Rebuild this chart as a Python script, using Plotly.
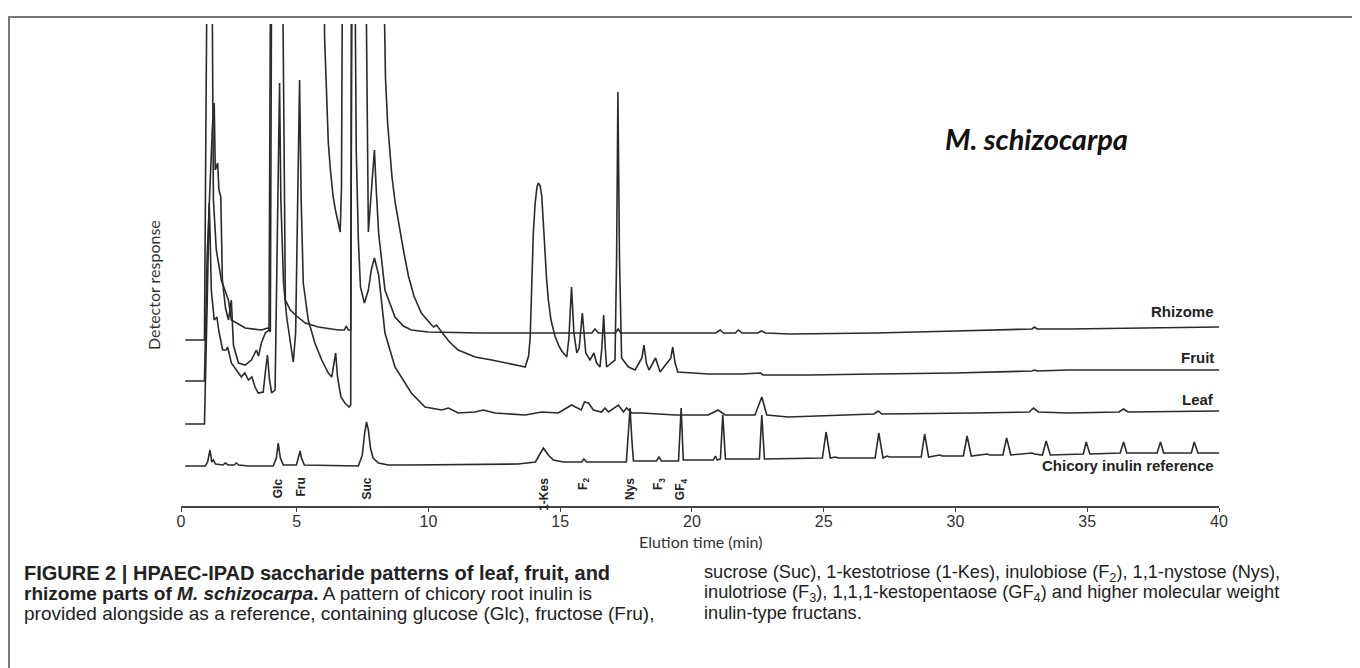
import plotly.graph_objects as go

# ---------------- data (time in min, detector response in arbitrary units) ----------------
rhizome_t = [0.77, 1.50, 1.56, 1.62, 1.77, 1.84, 1.95, 2.14, 2.41, 2.52, 3.05, 3.66, 3.92, 4.00, 4.06, 4.44,
             4.57, 4.76, 4.95, 5.33, 5.82, 6.58, 6.81, 6.88, 6.96, 7.05, 7.11, 7.60, 7.72, 7.83, 7.95, 8.02,
             8.11, 8.35, 8.73, 9.05, 9.35, 9.99, 12.0, 15.0, 16.2, 16.32, 16.45, 17.1, 17.2, 17.3, 20.9,
             21.07, 21.2, 21.65, 21.76, 21.9, 22.5, 22.63, 22.8, 23.7, 27.0, 30.0, 32.9, 33.0, 33.1, 34.3,
             37.0, 40.0]
rhizome_r = [168, 168, 400, 620, 620, 308, 258, 228, 208, 188, 180, 178, 180, 176, 620, 620,
             208, 198, 193, 185, 181, 178, 178, 182, 178, 178, 620, 620, 276, 318, 358, 318,
             275, 218, 191, 182, 178, 176, 175, 175, 175, 179, 175, 175, 179, 175, 175,
             178, 175, 175, 178, 175, 175, 177, 175, 174, 175, 177, 179, 181, 179, 179,
             180, 181]

fruit_t = [0.77, 1.50, 1.60, 1.80, 1.87, 1.91, 2.00, 2.05, 2.12, 2.18, 2.30, 2.41, 2.52, 2.60, 2.79, 3.05,
           3.28, 3.40, 3.47, 3.55, 3.66, 3.81, 3.95, 4.02, 6.01, 6.06, 6.13, 6.20, 6.28, 6.38, 6.47, 6.57,
           6.65, 6.70, 6.72, 6.75, 8.25, 8.30, 8.37, 8.45, 8.52, 8.62, 8.74, 8.90, 9.05, 9.24, 9.45, 9.73,
           10.0, 10.12, 10.20, 10.31, 10.50, 10.80, 11.13, 11.77, 12.40, 13.03, 13.50, 13.67, 13.80,
           13.86, 13.92, 13.98, 14.05, 14.12, 14.17, 14.24, 14.30, 14.36, 14.42, 14.48, 14.55, 14.65,
           14.80, 14.95, 15.06, 15.25, 15.33, 15.43, 15.52, 15.63, 15.72, 15.84, 15.92, 15.97, 16.13,
           16.28, 16.38, 16.51, 16.58, 16.65, 16.71, 16.76, 17.08, 17.14, 17.19, 17.25, 17.33, 17.59,
           17.84, 18.10, 18.18, 18.27, 18.37, 18.62, 18.79, 19.20, 19.27, 19.36, 19.46, 20.63, 21.89,
           22.60, 22.70, 24.42, 27.0, 30.0, 32.9, 33.0, 33.1, 34.28, 37.0, 40.0]
fruit_r = [127, 127, 250, 380, 405, 338, 345, 318, 311, 228, 200, 188, 208, 163, 145, 143,
           148, 155, 158, 152, 165, 175, 178, 620, 620, 470, 408, 365, 338, 312, 298, 285,
           276, 320, 358, 620, 620, 520, 430, 385, 358, 330, 305, 280, 258, 232, 212, 195,
           186, 183, 181, 183, 176, 166, 158, 151, 148, 145, 142, 141, 152,
           170, 225, 275, 305, 321, 325, 322, 312, 290, 258, 230, 208, 188,
           172, 162, 157, 151, 170, 221, 175, 155, 160, 195, 165, 155, 148,
           155, 145, 141, 160, 193, 160, 141, 148, 250, 416, 250, 150, 141,
           138, 150, 163, 145, 138, 150, 136, 150, 161, 145, 136, 134, 134,
           135, 133, 133, 134, 135, 137, 138, 137, 138, 138, 138]

leaf_t = [0.77, 1.50, 1.60, 1.68, 1.71, 1.76, 1.87, 1.97, 2.06, 2.19, 2.32, 2.38, 2.52, 2.71, 2.90, 3.03,
          3.17, 3.30, 3.42, 3.54, 3.73, 3.82, 3.89, 3.97, 4.05, 4.18, 4.28, 4.35, 4.40, 4.50, 4.62, 4.75,
          4.87, 4.96, 5.03, 5.11, 5.17, 5.25, 5.44, 5.69, 5.95, 6.20, 6.33, 6.42, 6.48, 6.55, 6.68, 6.83,
          6.99, 7.05, 7.08, 7.19, 7.26, 7.34, 7.42, 7.57, 7.72, 7.83, 7.95, 8.11, 8.35, 8.73, 9.35, 9.87,
          10.50, 10.76, 11.13, 11.77, 12.08, 12.53, 13.67, 14.30, 14.93, 15.43, 15.63, 15.80, 15.92,
          16.07, 16.26, 16.57, 16.70, 16.83, 17.21, 17.40, 17.52, 17.71, 18.09, 19.36, 20.62, 20.99,
          21.26, 22.39, 22.65, 22.84, 23.66, 25.0, 26.9, 27.07, 27.2, 30.74, 32.8, 32.96, 33.15, 34.28,
          36.2, 36.38, 36.55, 40.0]
leaf_r = [84, 84, 200, 305, 278, 218, 188, 191, 175, 158, 158, 161, 145, 138, 131, 135,
          128, 131, 121, 115, 116, 138, 153, 128, 115, 118, 308, 425, 308, 225, 191, 165,
          146, 175, 308, 428, 308, 225, 188, 165, 148, 135, 131, 148, 155, 131, 111, 105,
          101, 103, 620, 620, 358, 268, 221, 205, 218, 238, 250, 233, 175, 141, 115, 101,
          98, 100, 95, 96, 98, 95, 93, 96, 95, 103, 100, 98, 106,
          105, 98, 96, 100, 96, 103, 96, 100, 95, 95, 93, 93, 98,
          93, 93, 111, 93, 91, 92, 94, 97, 94, 95, 96, 100, 96, 95,
          96, 99, 96, 97]

chicory_t = [0.77, 1.53, 1.62, 1.71, 1.78, 1.84, 1.92, 2.20, 2.29, 2.40, 2.62, 2.71, 2.80, 3.17, 4.11, 4.23,
             4.30, 4.38, 4.49, 4.99, 5.06, 5.13, 5.18, 5.29, 7.34, 7.49, 7.58, 7.65, 7.72, 7.80, 7.90, 8.10,
             8.48, 9.24, 13.41, 14.06, 14.21, 14.36, 14.55, 14.74, 15.12, 15.81, 15.90, 16.00, 17.51, 17.65,
             17.72, 17.78, 18.65, 18.75, 18.84, 19.49, 19.59, 19.67, 20.81, 20.89, 20.96, 21.08, 21.17,
             21.27, 22.44, 22.56, 22.65, 22.75, 24.95, 25.09, 25.25, 25.45, 25.55, 26.95, 27.09, 27.25,
             27.40, 27.50, 28.70, 28.83, 28.98, 29.40, 29.50, 30.30, 30.44, 30.60, 31.20, 31.30, 31.80,
             31.94, 32.10, 32.90, 33.00, 33.30, 33.44, 33.60, 34.85, 34.96, 35.10, 36.25, 36.38, 36.50,
             37.65, 37.78, 37.90, 38.95, 39.06, 39.20, 40.0]
chicory_r = [42, 42, 46, 58, 46, 48, 44, 43, 45, 43, 43, 45, 43, 42, 42, 50,
             65, 50, 43, 43, 50, 57, 50, 43, 42, 53, 75, 86, 78, 60, 50, 45,
             43, 43, 44, 46, 53, 60, 53, 48, 46, 46, 49, 46, 46, 100,
             68, 47, 47, 51, 47, 47, 100, 48, 48, 52, 48, 49, 93,
             49, 49, 49, 93, 49, 50, 76, 50, 51, 50, 50, 75, 50,
             52, 51, 51, 74, 51, 53, 52, 52, 72, 52, 54, 53, 53,
             70, 53, 55, 54, 53, 67, 53, 54, 66, 54, 55, 66, 55,
             55, 66, 55, 55, 66, 55, 55]

series_names = ["Rhizome", "Fruit", "Leaf", "Chicory inulin reference"]
label_resp = [197, 151, 109, 43]

peak_labels = ["Glc", "Fru", "Suc", "1-Kes", "F<sub>2</sub>", "Nys", "F<sub>3</sub>", "GF<sub>4</sub>"]
peak_times = [4.30, 5.13, 7.65, 14.36, 15.90, 17.65, 18.75, 19.59]

x_tick_pos = [0.61, 5, 10, 15, 20, 25, 30, 35, 40]
x_tick_text = ["0", "5", "10", "15", "20", "25", "30", "35", "40"]

# ---------------- figure ----------------
W, H = 1360, 668
L, R, T, B = 173, 149, 16, 170
pw, ph = W - L - R, H - T - B


def px_x(p):
    return (p - L) / pw


def px_y(p):
    return (H - B - p) / ph


line_color = "#2a2a2a"
fig = go.Figure()
for t, r in [(rhizome_t, rhizome_r), (fruit_t, fruit_r), (leaf_t, leaf_r), (chicory_t, chicory_r)]:
    fig.add_trace(go.Scatter(x=t, y=r, mode="lines", line=dict(color=line_color, width=1.6),
                             hoverinfo="skip", showlegend=False))

annotations = []
for name, yr in zip(series_names, label_resp):
    annotations.append(dict(x=39.9, y=yr, xref="x", yref="y", text="<b>%s</b>" % name,
                            showarrow=False, xanchor="right", yanchor="middle",
                            font=dict(family="Liberation Sans, Arial", size=15, color="#222")))
for lab, tt in zip(peak_labels, peak_times):
    annotations.append(dict(x=tt, y=32, xref="x", yref="y", text="<b>%s</b>" % lab, textangle=-90,
                            showarrow=False, xanchor="center", yanchor="top",
                            font=dict(family="Liberation Sans, Arial", size=12, color="#222")))

annotations.append(dict(x=px_x(1028), y=px_y(130), xref="paper", yref="paper",
                        text="<b><i>M. schizocarpa</i></b>", showarrow=False,
                        xanchor="center", yanchor="middle",
                        font=dict(family="Lato, Open Sans", size=29, color="#111")))
annotations.append(dict(x=px_x(145), y=px_y(277), xref="paper", yref="paper",
                        text="Detector response", textangle=-90, showarrow=False,
                        xanchor="center", yanchor="middle",
                        font=dict(family="Lato, Open Sans", size=16, color="#333")))
annotations.append(dict(x=px_x(692), y=px_y(533), xref="paper", yref="paper",
                        text="Elution time (min)", showarrow=False,
                        xanchor="center", yanchor="middle",
                        font=dict(family="Lato, Open Sans", size=16, color="#333")))

left_lines = ["<b>FIGURE 2 | HPAEC-IPAD saccharide patterns of leaf, fruit, and</b>",
              "<b>rhizome parts of <i>M. schizocarpa</i>.</b> A pattern of chicory root inulin is",
              "provided alongside as a reference, containing glucose (Glc), fructose (Fru),"]
left_sizes = [20, 19, 19]
right_lines = ["sucrose (Suc), 1-kestotriose (1-Kes), inulobiose (F<sub>2</sub>), 1,1-nystose (Nys),",
               "inulotriose (F<sub>3</sub>), 1,1,1-kestopentaose (GF<sub>4</sub>) and higher molecular weight",
               "inulin-type fructans."]
for i, (lt, rt, ls) in enumerate(zip(left_lines, right_lines, left_sizes)):
    yc = 565 + 20 * i
    annotations.append(dict(x=px_x(14), y=px_y(yc), xref="paper", yref="paper", text=lt,
                            showarrow=False, xanchor="left", yanchor="middle",
                            font=dict(family="Liberation Sans, Arial", size=ls, color="#222")))
    annotations.append(dict(x=px_x(694), y=px_y(yc), xref="paper", yref="paper", text=rt,
                            showarrow=False, xanchor="left", yanchor="middle",
                            font=dict(family="Liberation Sans, Arial", size=18.2, color="#222")))

shapes = [dict(type="rect", xref="paper", yref="paper", x0=px_x(1), x1=px_x(1356),
               y0=px_y(700), y1=px_y(9), line=dict(color="#777", width=2), layer="above")]

fig.update_layout(
    width=W, height=H, margin=dict(l=L, r=R, t=T, b=B),
    paper_bgcolor="white", plot_bgcolor="white",
    xaxis=dict(range=[0.61, 40], tickvals=x_tick_pos, ticktext=x_tick_text, showline=True,
               linecolor="#444", linewidth=2, ticks="outside", ticklen=4, tickcolor="#444",
               tickfont=dict(family="Liberation Sans, Arial", size=16, color="#333"),
               showgrid=False, zeroline=False, fixedrange=True),
    yaxis=dict(range=[2, 484], visible=False, fixedrange=True),
    annotations=annotations, shapes=shapes,
)
try:
    fig.update_xaxes(ticklabelstandoff=-4)
except Exception:
    pass

fig.write_html("out.html")
